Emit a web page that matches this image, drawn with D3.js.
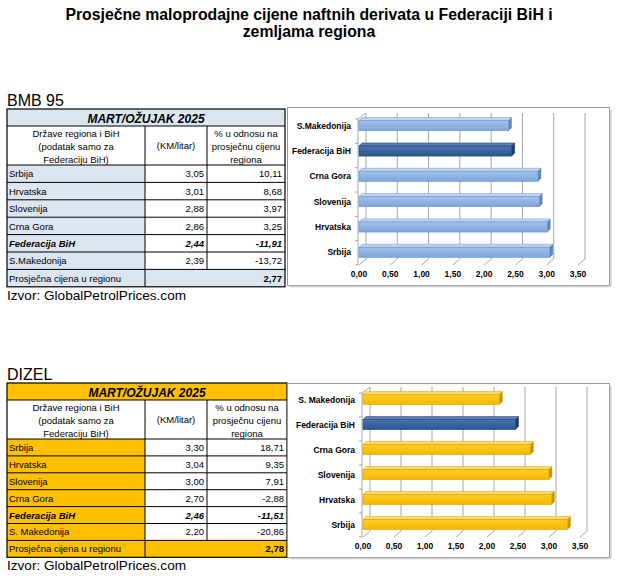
<!DOCTYPE html>
<html>
<head>
<meta charset="utf-8">
<script src="https://cdn.jsdelivr.net/npm/d3@7"></script>
<style>
  body { margin: 0; background: #fff; }
  svg { display: block; font-family: "Liberation Sans", Arial, sans-serif; }
</style>
</head>
<body>
<div id="chart"></div>
<script>
// data
var countriesBmb = ["Srbija", "Hrvatska", "Slovenija", "Crna Gora", "Federacija BiH", "S.Makedonija"];
var countriesDizel = ["Srbija", "Hrvatska", "Slovenija", "Crna Gora", "Federacija BiH", "S. Makedonija"];
var bmbPrice = [3.05, 3.01, 2.88, 2.86, 2.44, 2.39];
var bmbPct = [10.11, 8.68, 3.97, 3.25, -11.91, -13.72];
var bmbAvg = 2.77;
var dizelPrice = [3.30, 3.04, 3.00, 2.70, 2.46, 2.20];
var dizelPct = [18.71, 9.35, 7.91, -2.88, -11.51, -20.86];
var dizelAvg = 2.78;
var xTicks = [0, 0.5, 1, 1.5, 2, 2.5, 3, 3.5];
var period = "MART/OŽUJAK 2025";
var highlight = "Federacija BiH";

var W = 621, H = 581;
var svg = d3.select("#chart").append("svg").attr("width", W).attr("height", H);
svg.append("rect").attr("width", W).attr("height", H).attr("fill", "#fff");

var loc = d3.formatLocale({decimal: ",", thousands: ".", grouping: [3], currency: ["", ""], minus: "-"});
var f2 = loc.format(".2f");

// title
svg.append("text").attr("x", 309).attr("y", 20).attr("text-anchor", "middle")
  .attr("font-size", 15.8).attr("font-weight", "bold")
  .text("Prosječne maloprodajne cijene naftnih derivata u Federaciji BiH i");
svg.append("text").attr("x", 309).attr("y", 37).attr("text-anchor", "middle")
  .attr("font-size", 15.8).attr("font-weight", "bold")
  .text("zemljama regiona");

// gradients
var defs = svg.append("defs");
function grad(id, c1, c2) {
  var g = defs.append("linearGradient").attr("id", id).attr("x1", 0).attr("y1", 0).attr("x2", 0).attr("y2", 1);
  g.append("stop").attr("offset", "0%").attr("stop-color", c1);
  g.append("stop").attr("offset", "100%").attr("stop-color", c2);
}
grad("gBlue", "#a4c2ea", "#7ea6dc");
grad("gDark", "#4a74ad", "#2a558f");
grad("gYel", "#ffcc26", "#f5b800");

function section(o) {
  var g = svg.append("g");
  g.append("text").attr("x", 7).attr("y", o.top - 3).attr("font-size", 16).text(o.name);

  // table
  var cx = [7, 145, 207, o.tRight];
  var t0 = o.top, hRow = 17, hHead = 39, rowH = o.rowH;
  var yHead = t0 + hRow, yData = yHead + hHead;
  var yEnd = yData + rowH * 7;

  g.append("rect").attr("x", cx[0]).attr("y", t0).attr("width", cx[3] - cx[0]).attr("height", hRow).attr("fill", o.tFill);
  g.append("rect").attr("x", cx[0]).attr("y", yData).attr("width", cx[1] - cx[0]).attr("height", rowH * 7).attr("fill", o.tFill);
  g.append("rect").attr("x", cx[1]).attr("y", yData + rowH * 6).attr("width", cx[3] - cx[1]).attr("height", rowH).attr("fill", o.tFill);

  g.append("text").attr("x", (cx[0] + cx[3]) / 2).attr("y", t0 + 13.5).attr("text-anchor", "middle")
    .attr("font-size", 12).attr("font-weight", "bold").attr("font-style", "italic").text(period);

  var h1 = ["Države regiona i BiH", "(podatak samo za", "Federaciju BiH)"];
  var h3 = ["% u odnosu na", "prosječnu cijenu", "regiona"];
  h1.forEach(function (s, i) {
    g.append("text").attr("x", (cx[0] + cx[1]) / 2).attr("y", yHead + 11 + i * 12.8).attr("text-anchor", "middle").attr("font-size", 9.5).text(s);
  });
  h3.forEach(function (s, i) {
    g.append("text").attr("x", (cx[2] + cx[3]) / 2).attr("y", yHead + 11 + i * 12.8).attr("text-anchor", "middle").attr("font-size", 9.5).text(s);
  });
  g.append("text").attr("x", (cx[1] + cx[2]) / 2).attr("y", yHead + 23).attr("text-anchor", "middle").attr("font-size", 9.5).text("(KM/litar)");

  o.countries.forEach(function (c, i) {
    var y = yData + rowH * i + rowH - 5;
    var hl = c === highlight;
    var tt = function (x, anchor, s) {
      g.append("text").attr("x", x).attr("y", y).attr("text-anchor", anchor).attr("font-size", 9.5)
        .attr("font-weight", hl ? "bold" : null).attr("font-style", hl ? "italic" : null).text(s);
    };
    tt(cx[0] + 2, "start", c);
    tt(cx[2] - 3, "end", f2(o.price[i]));
    tt(cx[3] - 3, "end", f2(o.pct[i]));
  });
  g.append("text").attr("x", cx[0] + 2).attr("y", yData + rowH * 7 - 5).attr("font-size", 9.5).text("Prosječna cijena u regionu");
  g.append("text").attr("x", cx[3] - 3).attr("y", yData + rowH * 7 - 5).attr("text-anchor", "end")
    .attr("font-size", 9.5).attr("font-weight", "bold").text(f2(o.avg));

  // table lines
  var ln = function (x1, y1, x2, y2, w) {
    g.append("line").attr("x1", x1).attr("y1", y1).attr("x2", x2).attr("y2", y2)
      .attr("stroke", "#000").attr("stroke-width", w || 1);
  };
  ln(cx[0], yHead, cx[3], yHead);
  for (var r = 0; r <= 6; r++) ln(cx[0], yData + rowH * r, cx[3], yData + rowH * r);
  ln(cx[1], yHead, cx[1], yEnd);
  ln(cx[2], yHead, cx[2], yData + rowH * 6);
  g.append("rect").attr("x", cx[0]).attr("y", t0).attr("width", cx[3] - cx[0]).attr("height", yEnd - t0)
    .attr("fill", "none").attr("stroke", "#000").attr("stroke-width", 1.2);

  g.append("text").attr("x", 7).attr("y", yEnd + 13).attr("font-size", 13.6).text("Izvor: GlobalPetrolPrices.com");

  // chart
  var c = svg.append("g");
  c.append("rect").attr("x", 287.5).attr("y", o.cTop + 0.5).attr("width", 322).attr("height", o.cBot - o.cTop)
    .attr("fill", "#fff").attr("stroke", "#9a9a9a");
  c.append("line").attr("x1", 611).attr("y1", o.cTop + 3).attr("x2", 611).attr("y2", o.cBot + 1.5).attr("stroke", "#d0d0d0").attr("stroke-width", 1.5);
  c.append("line").attr("x1", 290).attr("y1", o.cBot + 1.5).attr("x2", 611).attr("y2", o.cBot + 1.5).attr("stroke", "#d0d0d0").attr("stroke-width", 1.5);

  var dx = 7, dy = 6;
  var x = d3.scaleLinear().domain([0, 3.5]).range([o.x0, o.x1]);
  var chartCats = o.countries.slice().reverse();
  var vals = o.price.slice().reverse();
  var y = d3.scaleBand().domain(chartCats).range([o.wallTop, o.floor]).paddingInner(0.6).paddingOuter(0.3);

  var grid = "#a6a6a6";
  // back wall grid
  c.selectAll(".vg").data(xTicks).enter().append("line")
    .attr("x1", function (d) { return x(d) + dx; }).attr("x2", function (d) { return x(d) + dx; })
    .attr("y1", o.wallTop).attr("y2", o.floor - dy).attr("stroke", grid);
  // floor diagonals
  c.selectAll(".fg").data(xTicks).enter().append("line")
    .attr("x1", function (d) { return x(d); }).attr("x2", function (d) { return x(d) + dx; })
    .attr("y1", o.floor).attr("y2", o.floor - dy).attr("stroke", grid);
  // left wall
  c.append("line").attr("x1", x(0) - 1).attr("x2", x(0) - 1).attr("y1", o.wallTop + dy).attr("y2", o.floor).attr("stroke", grid);
  c.append("line").attr("x1", x(0) - 1).attr("x2", x(0) + dx).attr("y1", o.wallTop + dy).attr("y2", o.wallTop).attr("stroke", grid);
  d3.range(7).forEach(function (k) {
    var yy = o.wallTop + dy + k * (o.floor - o.wallTop - dy) / 6;
    c.append("line").attr("x1", x(0) - 4).attr("x2", x(0) - 1).attr("y1", yy).attr("y2", yy).attr("stroke", grid);
  });

  // bars
  var d = 3;
  chartCats.forEach(function (cat, i) {
    var v = vals[i], y0 = y(cat), bh = y.bandwidth(), xs = x(0), xe = x(v);
    var hl = cat === highlight;
    var fill = hl ? "url(#gDark)" : o.barFill;
    var edge = hl ? "#1f3f6c" : o.barEdge;
    var topc = hl ? "#5b82ba" : o.barTop;
    var side = hl ? "#1c3a66" : o.barSide;
    c.append("polygon").attr("points", [[xs, y0], [xs + d, y0 - d], [xe + d, y0 - d], [xe, y0]].join(" "))
      .attr("fill", topc).attr("stroke", edge).attr("stroke-width", 0.5);
    c.append("polygon").attr("points", [[xe, y0], [xe + d, y0 - d], [xe + d, y0 + bh - d], [xe, y0 + bh]].join(" "))
      .attr("fill", side).attr("stroke", edge).attr("stroke-width", 0.5);
    c.append("rect").attr("x", xs).attr("y", y0).attr("width", xe - xs).attr("height", bh)
      .attr("fill", fill).attr("stroke", edge).attr("stroke-width", 0.6);
  });

  // category labels
  chartCats.forEach(function (cat) {
    c.append("text").attr("x", x(0) - 8).attr("y", y(cat) + y.bandwidth() / 2 + 3)
      .attr("text-anchor", "end").attr("font-size", 8.5).attr("font-weight", "bold").text(cat);
  });
  // tick labels
  c.selectAll(".tl").data(xTicks).enter().append("text")
    .attr("x", function (d) { return x(d); }).attr("y", o.floor + 12)
    .attr("text-anchor", "middle").attr("font-size", 8.5).attr("font-weight", "bold")
    .text(function (d) { return f2(d); });
}

section({
  name: "BMB 95", top: 109, rowH: 17.4, tRight: 285, tFill: "#dce6f1",
  countries: countriesBmb, price: bmbPrice, pct: bmbPct, avg: bmbAvg,
  cTop: 107, cBot: 285, x0: 359, x1: 578, wallTop: 113, floor: 265,
  barFill: "url(#gBlue)", barEdge: "#6b93c9", barTop: "#c0d5f0", barSide: "#5d84bb"
});
section({
  name: "DIZEL", top: 383, rowH: 16.9, tRight: 287, tFill: "#ffc000",
  countries: countriesDizel, price: dizelPrice, pct: dizelPct, avg: dizelAvg,
  cTop: 383, cBot: 557, x0: 363, x1: 580, wallTop: 387, floor: 537,
  barFill: "url(#gYel)", barEdge: "#d9a200", barTop: "#ffd966", barSide: "#c99400"
});
</script>
</body>
</html>
